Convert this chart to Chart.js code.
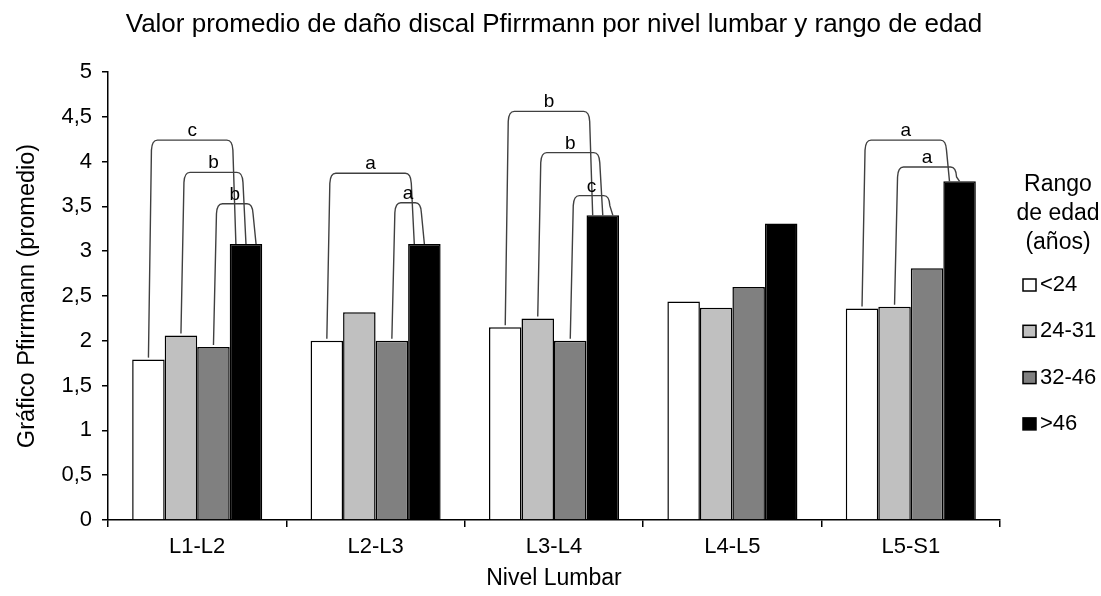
<!DOCTYPE html>
<html>
<head>
<meta charset="utf-8">
<script src="https://cdn.jsdelivr.net/npm/chart.js@4.4.0/dist/chart.umd.min.js"></script>
<style>
  html, body { margin: 0; padding: 0; background: #fff; }
  #wrap { width: 1101px; height: 596px; }
</style>
</head>
<body>
<div id="wrap"><canvas id="chart" width="1101" height="596"></canvas></div>
<script>
var niveles = ['L1-L2', 'L2-L3', 'L3-L4', 'L4-L5', 'L5-S1'];
var rangos = ['<24', '24-31', '32-46', '>46'];
var menor24 = [1.79, 2.00, 2.15, 2.44, 2.36];
var de24a31 = [2.06, 2.32, 2.25, 2.37, 2.38];
var de32a46 = [1.93, 2.00, 2.00, 2.60, 2.81];
var mayor46 = [3.08, 3.08, 3.40, 3.31, 3.78];
var yTicks = ['0', '0,5', '1', '1,5', '2', '2,5', '3', '3,5', '4', '4,5', '5'];

// comparaciones significativas: nivel, grupo inicial, grupo final, altura y letra
var compNivel = [0, 0, 0, 1, 1, 2, 2, 2, 4, 4];
var compDesde = [0, 1, 2, 0, 2, 0, 1, 2, 0, 1];
var compHasta = [3, 3, 3, 3, 3, 3, 3, 3, 3, 3];
var compAltura = [4.24, 3.88, 3.53, 3.87, 3.54, 4.56, 4.10, 3.62, 4.24, 3.94];
var compLetra = ['c', 'b', 'b', 'a', 'a', 'b', 'b', 'c', 'a', 'a'];

var tituloLeyenda = ['Rango', 'de edad', '(años)'];

Chart.defaults.font.family = '"Liberation Sans", Arial, sans-serif';
Chart.defaults.color = '#000';

var corchetes = {
  id: 'corchetes',
  afterDatasetsDraw: function(chart) {
    var ctx = chart.ctx, y = chart.scales.y;
    ctx.save();
    ctx.strokeStyle = '#404040';
    ctx.lineWidth = 1.4;
    ctx.fillStyle = '#000';
    ctx.font = '19px "Liberation Sans", Arial, sans-serif';
    ctx.textAlign = 'center';
    ctx.textBaseline = 'alphabetic';
    for (var i = 0; i < compNivel.length; i++) {
      var n = compNivel[i];
      var a = chart.getDatasetMeta(compDesde[i]).data[n];
      var b = chart.getDatasetMeta(compHasta[i]).data[n];
      var mismos = [];
      for (var j = 0; j < compNivel.length; j++) {
        if (compNivel[j] === n && compHasta[j] === compHasta[i]) mismos.push(j);
      }
      var k = mismos.indexOf(i);
      var x1 = a.x;
      var x2 = b.x - b.width / 2 + b.width * (0.19 + k * 0.31);
      var yt = y.getPixelForValue(compAltura[i]);
      ctx.beginPath();
      ctx.moveTo(x1, a.y - 2);
      ctx.lineTo(x1 + 3, yt + 10);
      ctx.quadraticCurveTo(x1 + 3.5, yt, x1 + 9, yt);
      ctx.lineTo(x2 - 9, yt);
      ctx.quadraticCurveTo(x2 - 3.5, yt, x2 - 3, yt + 10);
      ctx.lineTo(x2, b.y);
      ctx.stroke();
      ctx.fillText(compLetra[i], (x1 + x2) / 2, yt - 4);
    }
    ctx.restore();
  }
};

var leyenda = {
  id: 'leyenda',
  afterDraw: function(chart) {
    var ctx = chart.ctx, area = chart.chartArea;
    var xc = area.right + 58;
    ctx.save();
    ctx.fillStyle = '#000';
    ctx.textBaseline = 'middle';
    ctx.textAlign = 'center';
    ctx.font = '23px "Liberation Sans", Arial, sans-serif';
    tituloLeyenda.forEach(function(t, i) {
      ctx.fillText(t, xc, 185 + i * 29);
    });
    ctx.textAlign = 'left';
    ctx.font = '22px "Liberation Sans", Arial, sans-serif';
    chart.data.datasets.forEach(function(ds, i) {
      var yy = 285 + i * 46.3;
      ctx.fillStyle = ds.backgroundColor;
      ctx.fillRect(area.right + 23, yy - 6, 13, 12);
      ctx.strokeStyle = '#000';
      ctx.lineWidth = 1.5;
      ctx.strokeRect(area.right + 23, yy - 6, 13, 12);
      ctx.fillStyle = '#000';
      ctx.fillText(ds.label, area.right + 40, yy);
    });
    ctx.restore();
  }
};

new Chart(document.getElementById('chart'), {
  type: 'bar',
  data: {
    labels: niveles,
    datasets: [
      { label: rangos[0], data: menor24, backgroundColor: '#ffffff' },
      { label: rangos[1], data: de24a31, backgroundColor: '#c0c0c0' },
      { label: rangos[2], data: de32a46, backgroundColor: '#808080' },
      { label: rangos[3], data: mayor46, backgroundColor: '#000000' }
    ]
  },
  options: {
    responsive: false,
    animation: false,
    devicePixelRatio: 1,
    layout: { padding: { left: 7, right: 0, top: 0, bottom: 0 } },
    datasets: {
      bar: { borderColor: '#000', borderWidth: 1.5, categoryPercentage: 0.729, barPercentage: 1 }
    },
    plugins: {
      legend: { display: false },
      tooltip: { enabled: false },
      title: {
        display: true,
        text: 'Valor promedio de daño discal Pfirrmann por nivel lumbar y rango de edad',
        color: '#000',
        font: { size: 26, weight: 'normal' },
        padding: { top: 9, bottom: 31.8 }
      }
    },
    scales: {
      x: {
        grid: { display: true, drawOnChartArea: false, drawTicks: true, tickLength: 7, color: '#000', lineWidth: 1.5, offset: true },
        border: { color: '#000', width: 1.5 },
        ticks: { color: '#000', font: { size: 22 }, padding: 7 },
        title: { display: true, text: 'Nivel Lumbar', color: '#000', font: { size: 23 }, padding: { top: 0, bottom: 4 } },
        afterFit: function(s) { s.height = 76; }
      },
      y: {
        min: 0,
        max: 5,
        ticks: {
          stepSize: 0.5, color: '#000', font: { size: 22 }, padding: 10,
          callback: function(v, i) { return yTicks[i]; }
        },
        grid: { drawOnChartArea: false, tickLength: 6, color: '#000', lineWidth: 1.5 },
        border: { color: '#000', width: 1.5 },
        title: { display: true, text: 'Gráfico Pfirrmann (promedio)', color: '#000', font: { size: 23.5 }, padding: { top: 6, bottom: 0 } },
        afterFit: function(s) { s.width = 101; }
      },
      // eje vacío a la derecha: deja sitio para la leyenda
      hueco: {
        type: 'linear',
        position: 'right',
        display: true,
        grid: { display: false },
        border: { display: false },
        ticks: { display: false },
        afterFit: function(s) { s.width = 101; }
      }
    }
  },
  plugins: [corchetes, leyenda]
});
</script>
</body>
</html>
